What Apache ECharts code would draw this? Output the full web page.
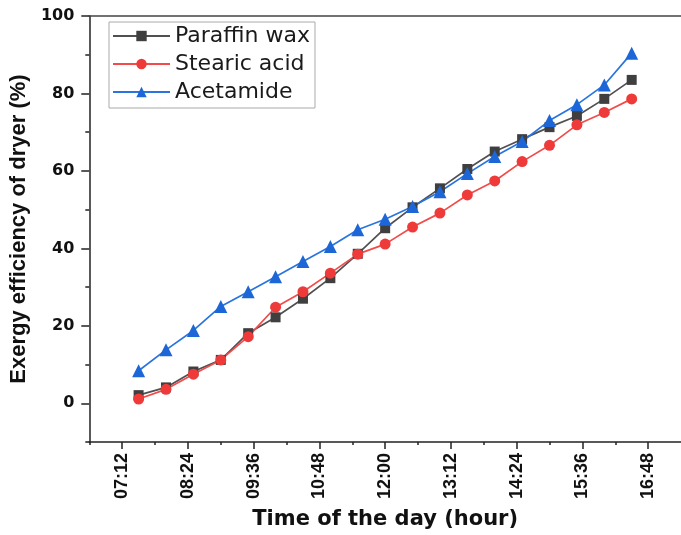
<!DOCTYPE html>
<html><head><meta charset="utf-8">
<script src="https://cdn.jsdelivr.net/npm/echarts@6/dist/echarts.min.js"></script>
<style>html,body{margin:0;padding:0;background:#fff}#c{width:681px;height:535px}</style>
</head><body><div id="c"></div>
<script>
const times = ['07:30','08:00','08:30','09:00','09:30','10:00','10:30','11:00','11:30','12:00','12:30','13:00','13:30','14:00','14:30','15:00','15:30','16:00','16:30'];
const paraffinWax = [2.1, 4.1, 8.2, 11.2, 18.1, 22.2, 27.0, 32.3, 38.6, 45.2, 50.6, 55.5, 60.5, 65.0, 68.2, 71.3, 74.2, 78.6, 83.5];
const stearicAcid = [1.1, 3.6, 7.5, 11.2, 17.2, 24.8, 28.8, 33.6, 38.5, 41.1, 45.5, 49.1, 53.8, 57.4, 62.4, 66.6, 71.9, 75.1, 78.6];
const acetamide = [8.4, 13.8, 18.8, 25.0, 28.8, 32.7, 36.6, 40.5, 44.8, 47.5, 50.8, 54.6, 59.3, 63.7, 67.6, 73.0, 77.1, 82.2, 90.4];
const xTickLabels = ['07:12','08:24','09:36','10:48','12:00','13:12','14:24','15:36','16:48'];
const xMinorTicks = ['06:36','07:48','09:00','10:12','11:24','12:36','13:48','15:00','16:12'];
const yTickLabels = [0, 20, 40, 60, 80, 100];
const yMinorTicks = [-10, 10, 30, 50, 70, 90];

const toMin = s => { const p = s.split(':').map(Number); return p[0] * 60 + p[1]; };
const pad = n => (n < 10 ? '0' : '') + n;
const fmt = v => pad(Math.floor(v / 60)) + ':' + pad(Math.round(v % 60));
const pairs = arr => arr.map((v, i) => [toMin(times[i]), v]);

const X_MIN = toMin('06:36'), X_MAX = toMin('17:24');
const axisColor = '#222';

const chart = echarts.init(document.getElementById('c'), null, {renderer: 'canvas'});
chart.setOption({
  animation: false,
  backgroundColor: '#fff',
  grid: {left: 88, top: 16, width: 600, height: 427, containLabel: false},
  legend: {
    orient: 'vertical', left: 109, top: 22,
    padding: [3, 5, 5, 3], itemGap: 6, itemWidth: 57, itemHeight: 13,
    borderColor: '#aaa', borderWidth: 1,
    textStyle: {fontFamily: 'DejaVu Sans', fontSize: 22, color: '#1a1a1a'},
    data: ['Paraffin wax', 'Stearic acid', 'Acetamide']
  },
  xAxis: [
    {
      type: 'value', position: 'bottom', min: X_MIN, max: X_MAX, interval: 36,
      name: 'Time of the day (hour)', nameLocation: 'middle', nameGap: 67,
      nameTextStyle: {fontFamily: 'DejaVu Sans', fontWeight: 'bold', fontSize: 21, color: '#111'},
      axisLine: {show: true, onZero: false, lineStyle: {color: axisColor, width: 1.5}},
      axisTick: {show: true, length: 7, customValues: xTickLabels.map(toMin), lineStyle: {color: axisColor, width: 1.5}},
      axisLabel: {show: true, rotate: 90, margin: 11, customValues: xTickLabels.map(toMin), formatter: fmt,
        fontFamily: 'Liberation Sans', fontWeight: 'bold', fontSize: 18, color: '#111'},
      splitLine: {show: false}
    },
    {
      type: 'value', position: 'bottom', min: X_MIN, max: X_MAX, interval: 36,
      axisLine: {show: false, onZero: false},
      axisTick: {show: true, length: 3, customValues: xMinorTicks.map(toMin), lineStyle: {color: axisColor, width: 1.5}},
      axisLabel: {show: false}, splitLine: {show: false}
    },
    {
      type: 'value', position: 'top', min: X_MIN, max: X_MAX,
      axisLine: {show: true, onZero: false, lineStyle: {color: '#444', width: 1.5}},
      axisTick: {show: false}, axisLabel: {show: false}, splitLine: {show: false}
    }
  ],
  yAxis: [
    {
      type: 'value', position: 'left', min: -10, max: 100, interval: 10,
      name: 'Exergy efficiency of dryer (%)', nameLocation: 'middle', nameGap: 48,
      nameTextStyle: {fontFamily: 'Liberation Sans', fontWeight: 'bold', fontSize: 22, color: '#111'},
      axisLine: {show: true, onZero: false, lineStyle: {color: axisColor, width: 1.5}},
      axisTick: {show: true, length: 8, customValues: yTickLabels, lineStyle: {color: axisColor, width: 1.5}},
      axisLabel: {show: true, margin: 15, customValues: yTickLabels,
        fontFamily: 'DejaVu Sans', fontWeight: 'bold', fontSize: 16, color: '#111'},
      splitLine: {show: false}
    },
    {
      type: 'value', position: 'left', min: -10, max: 100, interval: 10,
      axisLine: {show: false, onZero: false},
      axisTick: {show: true, length: 4, customValues: yMinorTicks, lineStyle: {color: axisColor, width: 1.5}},
      axisLabel: {show: false}, splitLine: {show: false}
    }
  ],
  series: [
    {
      name: 'Paraffin wax', type: 'line', xAxisIndex: 0, yAxisIndex: 0,
      data: pairs(paraffinWax), symbol: 'rect', symbolSize: 10,
      lineStyle: {color: '#505050', width: 1.7},
      itemStyle: {color: '#3f3f3f'}
    },
    {
      name: 'Stearic acid', type: 'line', xAxisIndex: 0, yAxisIndex: 0,
      data: pairs(stearicAcid), symbol: 'circle', symbolSize: 11,
      lineStyle: {color: '#f24b4b', width: 1.7},
      itemStyle: {color: '#ef3a3a'}
    },
    {
      name: 'Acetamide', type: 'line', xAxisIndex: 0, yAxisIndex: 0,
      data: pairs(acetamide), symbol: 'triangle', symbolSize: 13,
      lineStyle: {color: '#2a74e0', width: 1.7},
      itemStyle: {color: '#1c66d8'}
    }
  ]
});
</script></body></html>
